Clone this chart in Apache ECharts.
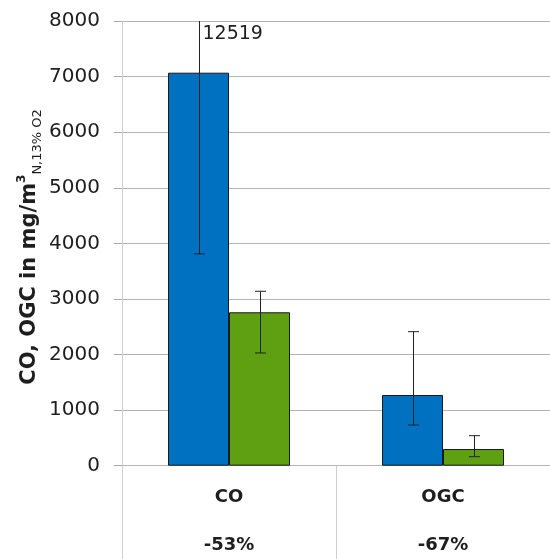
<!DOCTYPE html>
<html>
<head>
<meta charset="utf-8">
<script src="https://cdn.jsdelivr.net/npm/echarts@6/dist/echarts.min.js"></script>
<style>
  html, body { margin: 0; padding: 0; background: #fff; }
  #chart { width: 550px; height: 559px; }
</style>
</head>
<body>
<div id="chart"></div>
<script>
// Pollutant categories and the reduction achieved for each
const categories = ['CO', 'OGC'];
const reductions = ['-53%', '-67%'];

// Mean concentrations (mg/m³ N, 13% O2) for the two configurations
const seriesA = [7070, 1272];
const seriesB = [2760, 300];

// Error-bar ranges [low, high] per category
const errorA = [[3810, 12519], [732, 2411]];
const errorB = [[2028, 3138], [162, 540]];

// Value axis ticks
const yTicks = [0, 1000, 2000, 3000, 4000, 5000, 6000, 7000, 8000];

const FONT = '"DejaVu Sans", sans-serif';
const BAR_W = 61;
const blue = '#0070c0';
const green = '#5fa012';
const ink = '#1e1e1e';

const yMin = yTicks[0];
const yMax = yTicks[yTicks.length - 1];
const yStep = yTicks[1] - yTicks[0];

function errorSeries(ranges, side) {
  return {
    type: 'custom',
    z: 10,
    clip: false,
    data: ranges.map((r, i) => [i, r[0], r[1]]),
    renderItem: function (params, api) {
      const cat = api.value(0);
      const lo = api.value(1);
      const hi = api.value(2);
      const dx = side * BAR_W / 2;
      const pLo = api.coord([cat, lo]);
      const clipped = hi > yMax;
      const pHi = api.coord([cat, clipped ? yMax : hi]);
      const x = Math.round(pLo[0] + dx) + 0.5;
      const cap = 5.5;
      const children = [
        { type: 'line', shape: { x1: x, y1: pLo[1], x2: x, y2: pHi[1] },
          style: { stroke: '#222', lineWidth: 1 } },
        { type: 'line', shape: { x1: x - cap, y1: pLo[1], x2: x + cap, y2: pLo[1] },
          style: { stroke: '#222', lineWidth: 1 } }
      ];
      if (clipped) {
        // upper whisker runs off the axis: state its value instead of a cap
        children.push({
          type: 'text',
          style: {
            x: x + 3, y: pHi[1] + 4,
            text: String(hi),
            fill: ink,
            font: '19px ' + FONT,
            align: 'left', verticalAlign: 'top'
          }
        });
      } else {
        children.push({ type: 'line', shape: { x1: x - cap, y1: pHi[1], x2: x + cap, y2: pHi[1] },
          style: { stroke: '#222', lineWidth: 1 } });
      }
      return { type: 'group', children: children };
    }
  };
}

const chart = echarts.init(document.getElementById('chart'));
chart.setOption({
  animation: false,
  backgroundColor: '#fff',
  grid: { left: 122, top: 21, width: 434, height: 444.7, containLabel: false },
  xAxis: {
    type: 'category',
    data: categories,
    axisLine: { show: true, lineStyle: { color: '#b4b4b4', width: 1 } },
    axisTick: { show: true, interval: 0, length: 94, lineStyle: { color: '#d0d0d0', width: 1 } },
    axisLabel: {
      interval: 0,
      margin: 8,
      formatter: function (v, i) { return '{a|' + v + '}\n{a|' + reductions[i] + '}'; },
      rich: {
        a: { fontFamily: FONT, fontSize: 18, fontWeight: 'bold', color: ink, lineHeight: 48 }
      }
    }
  },
  yAxis: {
    type: 'value',
    min: yMin,
    max: yMax,
    interval: yStep,
    axisLine: { show: true, lineStyle: { color: '#cfcfcf', width: 1 } },
    axisTick: { show: true, inside: false, length: 8, lineStyle: { color: '#a8a8a8', width: 1 } },
    splitLine: { show: true, lineStyle: { color: '#b4b4b4', width: 1 } },
    axisLabel: {
      margin: 22, fontFamily: FONT, fontSize: 20, color: ink,
      formatter: function (v) { return String(v); }
    }
  },
  graphic: [{
    type: 'text',
    x: 30, y: 247,
    rotation: Math.PI / 2,
    style: {
      text: '{m|CO, OGC in mg/m}{sup|3}{sub|N,13% O2}',
      align: 'center', verticalAlign: 'middle',
      rich: {
        m: { fontFamily: FONT, fontSize: 21, fontWeight: 'bold', fill: ink, lineHeight: 28 },
        sup: { fontFamily: FONT, fontSize: 12, fontWeight: 'bold', fill: ink, lineHeight: 16, verticalAlign: 'top' },
        sub: { fontFamily: FONT, fontSize: 13, fill: ink, lineHeight: 12, verticalAlign: 'bottom' }
      }
    }
  }],
  series: [
    {
      type: 'bar', data: seriesA, barWidth: BAR_W, barGap: '0%',
      itemStyle: { color: blue, borderColor: '#1a1a1a', borderWidth: 1 }
    },
    {
      type: 'bar', data: seriesB, barWidth: BAR_W, barGap: '0%',
      itemStyle: { color: green, borderColor: '#1a1a1a', borderWidth: 1 }
    },
    errorSeries(errorA, -1),
    errorSeries(errorB, 1)
  ]
});
</script>
</body>
</html>
